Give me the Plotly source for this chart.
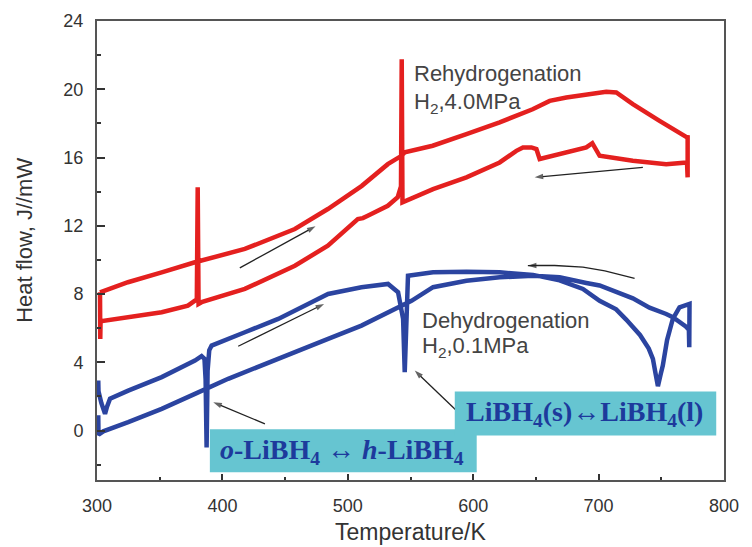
import plotly.graph_objects as go

# ---------------- data ----------------
# Rehydrogenation (H2, 4.0 MPa) DSC loop, temperature in K, heat flow
red_T = [302.4, 324.7, 351.6, 378.1, 417.9, 457.8, 484.1, 511.2, 531.9, 542.8, 545.4, 567.7,
         594.6, 621.1, 647.4, 661.0, 674.3, 690.2, 706.1, 714.1, 727.3, 748.6, 767.2, 770.5,
         771.0, 771.0, 770.5, 753.9, 727.3, 700.8, 698.2, 695.0, 690.2, 674.3, 653.0, 650.4,
         646.4, 639.7, 634.4, 621.1, 594.6, 568.0, 545.4, 543.6, 543.0, 542.4, 539.8, 531.9,
         515.9, 512.0, 508.0, 484.1, 457.8, 417.9, 383.4, 381.0, 380.3, 379.6, 378.1, 372.5,
         351.6, 324.7, 304.0, 302.8, 302.6, 302.4]
red_H = [8.10, 8.69, 9.27, 9.86, 10.64, 11.81, 12.98, 14.34, 15.61, 16.10, 16.30, 16.69,
         17.37, 18.06, 18.83, 19.32, 19.52, 19.71, 19.85, 19.81, 19.13, 18.15, 17.27, 17.18,
         17.30, 14.84, 15.71, 15.61, 15.81, 16.10, 16.39, 16.84, 16.59, 16.30, 15.91, 16.49,
         16.59, 16.59, 16.39, 15.71, 14.84, 14.15, 13.37, 13.37, 21.76, 14.30, 13.67, 13.17,
         12.59, 12.45, 12.39, 10.83, 9.66, 8.30, 7.52, 7.42, 14.25, 7.70, 7.61, 7.32,
         6.93, 6.64, 6.42, 6.30, 5.37, 8.10]

# Dehydrogenation (H2, 0.1 MPa) DSC loop
blue_T = [301.0, 301.2, 303.5, 306.4, 308.0, 310.4, 324.9, 351.6, 378.1, 383.4, 385.7, 386.6,
          387.4, 388.2, 389.5, 391.4, 417.9, 444.5, 471.1, 484.3, 510.9, 532.1, 540.1, 544.1,
          545.4, 546.5, 548.0, 568.0, 594.6, 621.1, 647.7, 668.9, 687.5, 700.8, 714.0, 722.0,
          733.0, 740.0, 743.3, 745.5, 747.3, 749.5, 751.2, 754.6, 759.2, 764.5, 772.5, 772.3,
          772.0, 769.5, 759.2, 753.9, 740.6, 727.3, 714.1, 700.8, 690.2, 668.9, 647.7, 621.1,
          594.6, 568.0, 550.8, 537.5, 510.9, 484.3, 457.8, 431.2, 404.6, 378.1, 351.6, 324.9,
          305.0, 301.2, 301.0]
blue_H = [2.93, 2.30, 1.60, 0.98, 1.40, 1.86, 2.34, 3.13, 4.10, 4.36, 4.20, 3.00,
          -1.00, 3.50, 4.70, 4.98, 5.76, 6.54, 7.52, 8.00, 8.40, 8.59, 8.10, 6.54,
          3.42, 6.50, 9.07, 9.27, 9.31, 9.27, 9.12, 8.80, 8.30, 7.60, 7.10, 6.50,
          5.60, 4.80, 4.20, 3.30, 2.60, 3.30, 3.81, 5.30, 6.55, 7.22, 7.42, 4.88,
          5.90, 6.10, 6.64, 6.83, 7.20, 7.75, 8.10, 8.50, 8.65, 8.98, 9.07, 8.98,
          8.78, 8.40, 7.60, 7.13, 6.15, 5.37, 4.59, 3.81, 3.03, 2.15, 1.27, 0.49,
          -0.05, -0.25, 0.90]

x_ticks = [300, 400, 500, 600, 700, 800]
y_ticks = [0, 4, 8, 12, 16, 20, 24]

# arrows drawn as polylines from tail to head: lists of T and H
arrow_paths = [
    ([413.9, 474.3], [9.53, 11.97]),
    ([735.3, 649.0], [15.42, 14.84]),
    ([412.6, 481.1], [4.94, 7.42]),
    ([433.9, 392.7], [0.39, 1.66]),
    ([586.6, 553.4], [1.17, 3.51]),
    ([728.7, 705.0, 687.5, 665.0, 650.0, 643.6], [8.92, 9.35, 9.57, 9.67, 9.67, 9.66]),
]

# highlight boxes: (T0, T1, H0, H1)
boxes = [(390.0, 602.8, -2.45, 0.07), (585.3, 793.8, -0.29, 2.28)]

RED = "#e4201f"
BLUE = "#2b44a0"

fig = go.Figure()
fig.add_trace(go.Scatter(x=red_T, y=red_H, mode="lines",
                         line=dict(color=RED, width=4.5), showlegend=False))
fig.add_trace(go.Scatter(x=blue_T, y=blue_H, mode="lines",
                         line=dict(color=BLUE, width=4.5), showlegend=False))

for ax_T, ax_H in arrow_paths:
    n = len(ax_T)
    fig.add_trace(go.Scatter(
        x=ax_T, y=ax_H, mode="lines+markers", showlegend=False, hoverinfo="skip",
        line=dict(color="#222", width=1.3),
        marker=dict(symbol=["circle"] * (n - 1) + ["arrow"],
                    size=[0] * (n - 1) + [9], angleref="previous",
                    color="#222", line=dict(width=0))))

for x0, x1, y0, y1 in boxes:
    fig.add_shape(type="rect", x0=x0, x1=x1, y0=y0, y1=y1, xref="x", yref="y",
                  fillcolor="#66c5d1", line=dict(width=0), layer="above")

sans = "Liberation Sans, Arial, sans-serif"
serif = "Liberation Serif, Times New Roman, serif"
label_font = dict(family=sans, size=22, color="#444")

fig.add_annotation(x=551.0, y=20.94, xref="x", yref="y", text="Rehydrogenation",
                   showarrow=False, xanchor="left", yanchor="middle", font=label_font)
fig.add_annotation(x=551.0, y=19.19, xref="x", yref="y", text="H<sub>2</sub>,4.0MPa",
                   showarrow=False, xanchor="left", yanchor="middle", font=label_font)
fig.add_annotation(x=557.4, y=6.44, xref="x", yref="y", text="Dehydrogenation",
                   showarrow=False, xanchor="left", yanchor="middle", font=label_font)
fig.add_annotation(x=557.4, y=4.90, xref="x", yref="y", text="H<sub>2</sub>,0.1MPa",
                   showarrow=False, xanchor="left", yanchor="middle", font=label_font)

box_font = dict(family=serif, size=28, color="#1d3a9c")
fig.add_annotation(x=495.0, y=-1.25, xref="x", yref="y",
                   text="<b><i>o</i>-LiBH<sub>4</sub> ↔ <i>h</i>-LiBH<sub>4</sub></b>",
                   showarrow=False, xanchor="center", yanchor="middle", font=box_font)
fig.add_annotation(x=689.0, y=1.0, xref="x", yref="y",
                   text="<b>LiBH<sub>4</sub>(s)↔LiBH<sub>4</sub>(l)</b>",
                   showarrow=False, xanchor="center", yanchor="middle", font=box_font)

# axis titles
fig.add_annotation(x=0.5008, y=-0.113, xref="paper", yref="paper", text="Temperature/K",
                   showarrow=False, xanchor="center", yanchor="middle",
                   font=dict(family=sans, size=23, color="#333"))
fig.add_annotation(x=-0.115, y=0.523, xref="paper", yref="paper", text="Heat flow, J//mW",
                   showarrow=False, xanchor="center", yanchor="middle", textangle=-90,
                   font=dict(family=sans, size=22, color="#333"))

axis_common = dict(showline=True, linecolor="#555", linewidth=2, mirror=True,
                   ticks="inside", tickcolor="#333", tickwidth=1.5, showgrid=False,
                   zeroline=False, automargin=False,
                   tickfont=dict(family=sans, size=18, color="#333"))

fig.update_xaxes(range=[300, 800], tickvals=x_ticks, ticklen=6,
                 minor=dict(ticks="inside", dtick=50, tick0=300, ticklen=3, tickcolor="#333"),
                 ticklabelstandoff=8, **axis_common)
fig.update_yaxes(range=[-2.9, 24], tickvals=y_ticks, ticklen=8,
                 minor=dict(ticks="inside", dtick=2, tick0=0, ticklen=4, tickcolor="#333"),
                 ticklabelstandoff=8, **axis_common)

# the page body adds an 8 px offset; margins compensate so the plot area lands in place
fig.update_layout(width=752, height=547, margin=dict(l=89, r=36, t=13, b=75),
                  plot_bgcolor="white", paper_bgcolor="white", showlegend=False)

fig.write_html("out.html")
